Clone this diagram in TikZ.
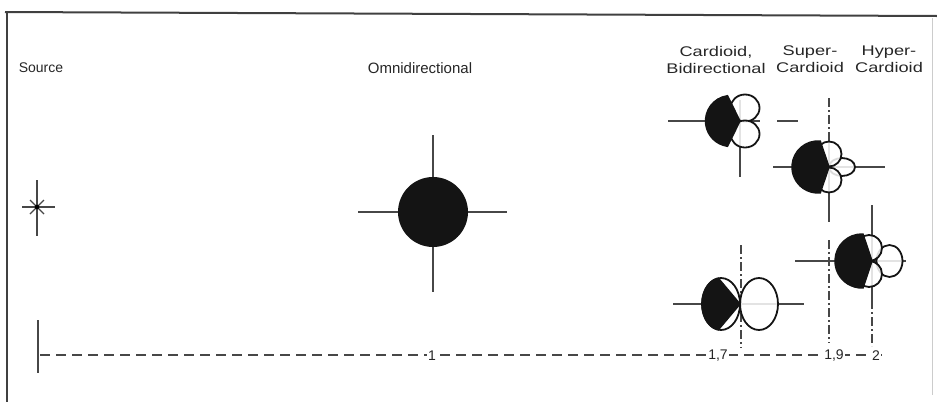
\documentclass[tikz,border=0pt]{standalone}
\usepackage{graphicx}
\usepackage{fontspec}
\setmainfont{Liberation Sans}
\newcommand{\wide}[1]{\scalebox{1.3}[1]{#1}}
\begin{document}
\begin{tikzpicture}[x=1pt,y=-1pt,
  axisline/.style={draw=black!72, line width=1.5pt},
  dashdot/.style={axisline, dash pattern=on 9pt off 3pt on 2pt off 3pt},
  lobe/.style={draw=black!92, line width=1.8pt, fill=white, fill opacity=0.85},
  blackpart/.style={fill=black!92, draw=black!92, line width=1.5pt},
  lbl/.style={font=\fontsize{14}{17}\selectfont, text=black!85, align=center, inner sep=0pt},
  numlbl/.style={font=\fontsize{14}{16}\selectfont, text=black!85, fill=white, inner sep=1.5pt},
  frame/.style={draw=black!75, line width=2pt}]
\useasboundingbox (0,0) rectangle (937,402);
% frame
\draw[frame] (5,12) -- (937,16);
\draw[frame] (7,12) -- (7,402);
\draw[draw=black!20, line width=0.8pt] (932,18) -- (932,395);
% labels
\node[lbl] (source) at (41,68) {Source};
\node[lbl, font=\fontsize{15}{17}\selectfont] (omni) at (420,68) {Omnidirectional};
\node[lbl] (card) at (716,59.5) {\wide{Cardioid,}\\\wide{Bidirectional}};
\node[lbl] (super) at (810,59.5) {\wide{Super-}\\\wide{Cardioid}};
\node[lbl] (hyper) at (889,59.5) {\wide{Hyper-}\\\wide{Cardioid}};
% source symbol
\coordinate (src) at (37,207);
\draw[axisline] (37,180) -- (37,236);
\draw[axisline] (22,207) -- (55,207);
\draw[axisline, line width=1.1pt] (30,200) -- (44,214);
\draw[axisline, line width=1.1pt] (30,214) -- (44,200);
\fill[black] (src) circle[radius=2.3];
% omnidirectional
\coordinate (om) at (433,212);
\draw[axisline] (433,135) -- (433,292);
\draw[axisline] (358,212) -- (507,212);
\fill[black!92] (om) circle[radius=35];
% distance axis
\draw[axisline] (38,320) -- (38,373);
\coordinate (d0) at (40,355);
\coordinate (d1) at (888,355);
\draw[axisline, dash pattern=on 10pt off 6pt] (d0) -- (d1);
\node[numlbl] (n1) at (432,356) {1};
\node[numlbl] (n17) at (718,356) {1,7};
\node[numlbl] (n19) at (834,356) {1,9};
\node[numlbl] (n2) at (876,356) {2};
% ---- A: cardioid
\coordinate (pa) at (740,121);
\draw[axisline] (740,100) -- (740,177);
\draw[axisline] (668,121) -- (760,121);
\draw[axisline] (777,121) -- (798,121);
\draw[lobe] (745,108) ellipse[x radius=14.5, y radius=13.5];
\draw[lobe] (745,134) ellipse[x radius=14.5, y radius=13.5];
\draw[blackpart] (731,121) ++(262:25.5) arc[start angle=262, end angle=98, radius=25.5] -- (pa) -- cycle;
% ---- B: supercardioid
\coordinate (pb) at (829,167);
\draw[dashdot] (829,98) -- (829,136);
\draw[axisline] (829,136) -- (829,222);
\draw[dashdot] (829,240) -- (829,343);
\draw[axisline] (773,167) -- (885,167);
\draw[lobe] (842,167) ellipse[x radius=13, y radius=9];
\draw[lobe] (829,154) circle[radius=12.5];
\draw[lobe] (829,180) circle[radius=12.5];
\draw[blackpart] (818,167) ++(275:26) arc[start angle=275, end angle=85, radius=26] -- (pb) -- cycle;
% ---- C: hypercardioid
\coordinate (pc) at (872,261);
\draw[axisline] (872,205) -- (872,300);
\draw[dashdot] (872,300) -- (872,346);
\draw[axisline] (795,261) -- (906,261);
\draw[lobe] (889.5,261) ellipse[x radius=13, y radius=16];
\draw[lobe] (869,248) circle[radius=13];
\draw[lobe] (869,274) circle[radius=13];
\draw[blackpart] (862,261) ++(272:27) arc[start angle=272, end angle=88, radius=27] -- (pc) -- cycle;
% ---- D: bidirectional
\coordinate (pd) at (740,304);
\draw[dashdot] (741,245) -- (741,348);
\draw[axisline] (673,304) -- (804,304);
\draw[lobe] (759,304) ellipse[x radius=19, y radius=26];
\draw[lobe] (721,304) ellipse[x radius=19, y radius=26];
\draw[blackpart] (721,304) ++(262:19 and 26) arc[start angle=262, end angle=98, x radius=19, y radius=26] -- (pd) -- cycle;
\end{tikzpicture}
\end{document}
